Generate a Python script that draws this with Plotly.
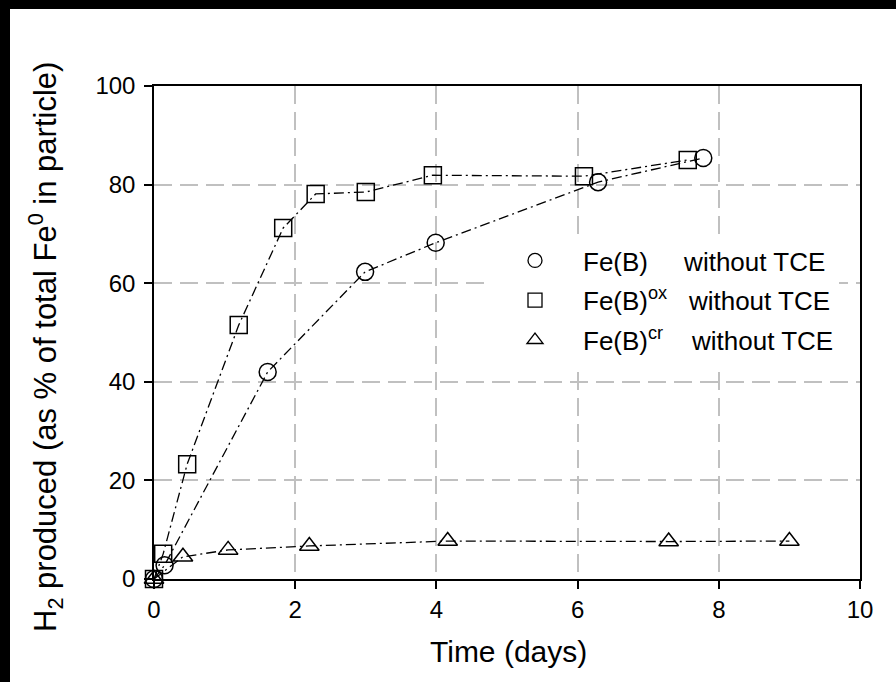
import plotly.graph_objects as go

# ---- data ----
feb_x = [0.0, 0.15, 1.61, 2.99, 3.99, 6.29, 7.78]
feb_y = [0.0, 2.8, 42.0, 62.3, 68.2, 80.5, 85.4]

feb_ox_x = [0.0, 0.13, 0.47, 1.20, 1.83, 2.29, 3.0, 3.95, 6.09, 7.56]
feb_ox_y = [0.0, 5.1, 23.3, 51.5, 71.2, 78.1, 78.5, 81.9, 81.7, 85.0]

feb_cr_x = [0.0, 0.41, 1.05, 2.2, 4.16, 7.29, 9.0]
feb_cr_y = [0.0, 4.5, 5.9, 6.7, 7.7, 7.6, 7.7]

series_names = [
    "Fe(B)\u00a0\u00a0\u00a0\u00a0 without TCE",
    "Fe(B)<sup>ox</sup>\u00a0\u00a0 without TCE",
    "Fe(B)<sup>cr</sup>\u00a0\u00a0\u00a0 without TCE",
]
symbols = ["circle-open", "square-open", "triangle-up-open"]
sizes = [17, 17, 17]

x_ticks = [0, 2, 4, 6, 8, 10]
y_ticks = [0, 20, 40, 60, 80, 100]

x_title = "Time (days)"
y_title = "H<sub>2</sub> produced (as % of total Fe<sup>0</sup> in particle)"

FONT = "Liberation Sans, Arial, sans-serif"
DASHDOT = "10px,4px,2px,4px"

fig = go.Figure()
data = [(feb_x, feb_y), (feb_ox_x, feb_ox_y), (feb_cr_x, feb_cr_y)]
for (xs, ys), sym, sz in zip(data, symbols, sizes):
    fig.add_trace(go.Scatter(
        x=xs, y=ys, mode="lines+markers", showlegend=False,
        cliponaxis=False,
        line=dict(color="black", width=1.3, dash=DASHDOT),
        marker=dict(symbol=sym, size=sz, color="black", line=dict(color="black", width=1.5)),
    ))
# legend entries (markers only)
for i, (name, sym) in enumerate(zip(series_names, symbols)):
    fig.add_trace(go.Scatter(
        x=[None], y=[None], mode="markers", name=name, legendgroup=f"g{i}",
        marker=dict(symbol=sym, size=14, color="black", line=dict(color="black", width=1.3)),
    ))

W, H = 896, 682
L, R, T, B = 154, 36, 86, 103
pw, ph = W - L - R, H - T - B

def px_x(p):
    return (p - L) / pw

def px_y(p):
    return (H - B - p) / ph

# black strips at the left and top edges of the picture
fig.add_shape(type="rect", xref="paper", yref="paper",
              x0=px_x(-20), x1=px_x(10), y0=px_y(H + 20), y1=px_y(-20),
              fillcolor="black", line=dict(width=0), layer="below")
fig.add_shape(type="rect", xref="paper", yref="paper",
              x0=px_x(-20), x1=px_x(W + 20), y0=px_y(9), y1=px_y(-20),
              fillcolor="black", line=dict(width=0), layer="below")

axis_common = dict(
    showline=True, linecolor="black", linewidth=1.5, mirror=True,
    ticks="outside", ticklen=8, tickwidth=1.5, tickcolor="black",
    showgrid=True, gridcolor="#c0c0c0", gridwidth=1.5, griddash="18px,8px",
    zeroline=False, tickfont=dict(family=FONT, size=24, color="black"),
)

fig.update_xaxes(range=[0, 10], tickvals=x_ticks, ticktext=[str(v) for v in x_ticks],
                 **axis_common)
fig.update_yaxes(range=[0, 100], tickvals=y_ticks, ticktext=[str(v) for v in y_ticks],
                 ticklabelstandoff=4, **axis_common)

fig.add_annotation(text=x_title, xref="paper", yref="paper",
                   x=px_x(508), y=px_y(651), xanchor="center", yanchor="middle",
                   showarrow=False, font=dict(family=FONT, size=30, color="black"))
fig.add_annotation(text=y_title, xref="paper", yref="paper", textangle=-90,
                   x=px_x(45), y=px_y(347), xanchor="center", yanchor="middle",
                   showarrow=False, font=dict(family=FONT, size=31, color="black"))

fig.update_layout(
    width=W, height=H,
    margin=dict(l=L, r=R, t=T, b=B),
    paper_bgcolor="white", plot_bgcolor="white",
    font=dict(family=FONT, size=24, color="black"),
    legend=dict(x=px_x(487), y=px_y(237), xanchor="left", yanchor="top",
                bgcolor="white", borderwidth=0, itemwidth=86,
                font=dict(family=FONT, size=26, color="black"),
                tracegroupgap=3, traceorder="grouped"),
)

fig.write_html(
    "out.html", config={"displayModeBar": False},
    post_script=(
        "document.documentElement.style.background='white';"
        "document.body.style.background='white';"
        "document.body.style.margin='0';"
        "document.body.style.overflow='hidden';"
    ),
)
